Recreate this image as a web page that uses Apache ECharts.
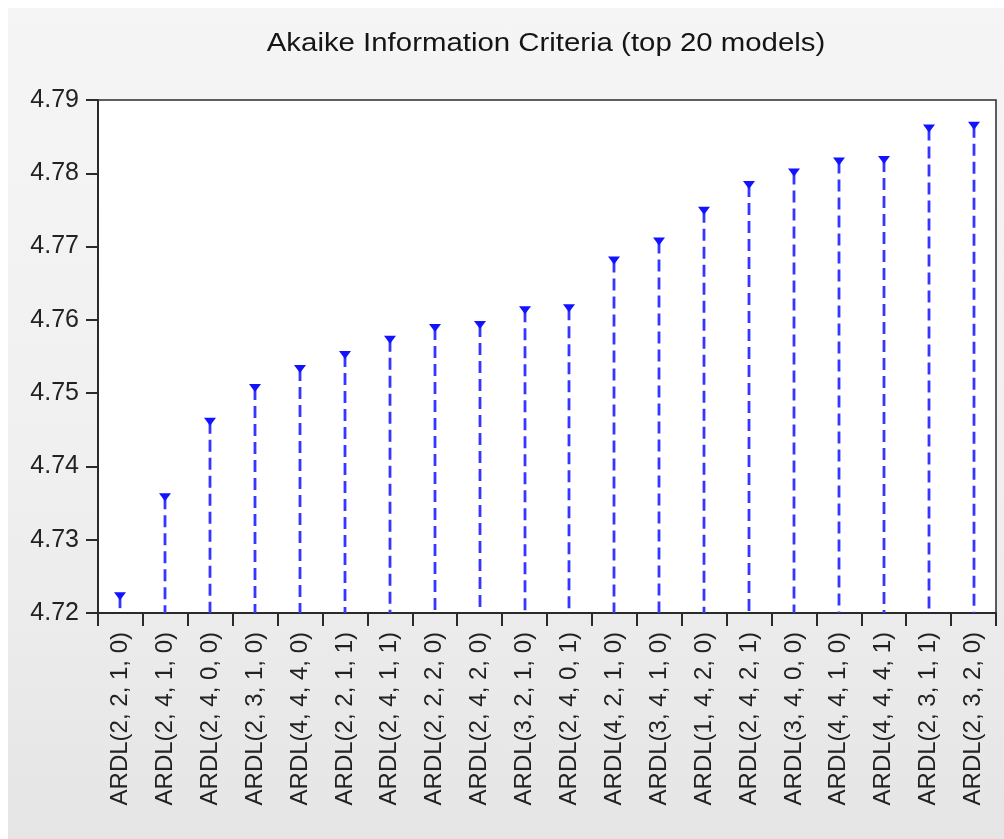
<!DOCTYPE html>
<html>
<head>
<meta charset="utf-8">
<script src="https://cdn.jsdelivr.net/npm/echarts@6/dist/echarts.min.js"></script>
<style>
  html, body { margin: 0; padding: 0; background: #ffffff; }
  #panel {
    position: absolute; left: 8px; top: 8px; right: 0; bottom: 0;
    background: linear-gradient(to bottom, #f5f5f5 0%, #f0f0f0 55%, #e5e5e5 100%);
  }
  #chart { position: absolute; left: 0; top: 0; width: 1004px; height: 839px; }
</style>
</head>
<body>
<div id="panel"></div>
<div id="chart"></div>
<script>
// Model specifications, ordered by Akaike information criterion
const models = [
  'ARDL(2, 2, 1, 0)', 'ARDL(2, 4, 1, 0)', 'ARDL(2, 4, 0, 0)', 'ARDL(2, 3, 1, 0)',
  'ARDL(4, 4, 4, 0)', 'ARDL(2, 2, 1, 1)', 'ARDL(2, 4, 1, 1)', 'ARDL(2, 2, 2, 0)',
  'ARDL(2, 4, 2, 0)', 'ARDL(3, 2, 1, 0)', 'ARDL(2, 4, 0, 1)', 'ARDL(4, 2, 1, 0)',
  'ARDL(3, 4, 1, 0)', 'ARDL(1, 4, 2, 0)', 'ARDL(2, 4, 2, 1)', 'ARDL(3, 4, 0, 0)',
  'ARDL(4, 4, 1, 0)', 'ARDL(4, 4, 4, 1)', 'ARDL(2, 3, 1, 1)', 'ARDL(2, 3, 2, 0)'
];

// AIC value of each model
const aicValues = [
  4.7223, 4.7358, 4.7461, 4.7507, 4.7533, 4.7552, 4.7573, 4.7589, 4.7593, 4.7613,
  4.7616, 4.7681, 4.7707, 4.7749, 4.7784, 4.7801, 4.7816, 4.7818, 4.7861, 4.7865
];

// Value axis range
const yMin = 4.72;
const yMax = 4.79;
const yStep = 0.01;

const titleText = 'Akaike Information Criteria (top 20 models)';

const chart = echarts.init(document.getElementById('chart'), null, { renderer: 'canvas' });

const fontFamily = '"Liberation Sans", Arial, sans-serif';

chart.setOption({
  backgroundColor: 'transparent',
  animation: false,
  graphic: [{
    type: 'text',
    x: 546,
    y: 44,
    scaleX: 1.13,
    originX: 0,
    originY: 0,
    style: {
      text: titleText,
      align: 'center',
      verticalAlign: 'middle',
      font: 'normal 26px "Liberation Sans", Arial, sans-serif',
      fill: '#151515'
    }
  }],
  grid: {
    left: 98, right: 8, top: 100, bottom: 226,
    show: true, backgroundColor: '#ffffff', borderColor: '#2a2a2a', borderWidth: 1.5
  },
  xAxis: {
    type: 'category',
    data: models,
    boundaryGap: true,
    axisLine: { show: true, lineStyle: { color: '#2a2a2a', width: 2 } },
    axisTick: { show: true, length: 13, interval: 0, lineStyle: { color: '#2a2a2a', width: 2 } },
    axisLabel: {
      interval: 0, rotate: 90, margin: 19,
      fontFamily, fontSize: 24, color: '#222222'
    },
    splitLine: { show: false }
  },
  yAxis: {
    type: 'value',
    min: yMin, max: yMax, interval: yStep,
    axisLine: { show: true, lineStyle: { color: '#2a2a2a', width: 2 } },
    axisTick: { show: true, length: 12, lineStyle: { color: '#2a2a2a', width: 2 } },
    axisLabel: {
      margin: 19, fontFamily, fontSize: 25, color: '#222222',
      formatter: v => v.toFixed(2)
    },
    splitLine: { show: false }
  },
  series: [{
    type: 'custom',
    data: aicValues.map((v, i) => [i, v]),
    encode: { x: 0, y: 1 },
    renderItem: function (params, api) {
      const top = api.coord([api.value(0), api.value(1)]);
      const base = api.coord([api.value(0), yMin]);
      const x = Math.round(top[0]);
      return {
        type: 'group',
        children: [
          {
            type: 'line',
            shape: { x1: x, y1: top[1], x2: x, y2: base[1] },
            style: { stroke: '#3636ff', lineWidth: 2.8, lineDash: [12, 6] }
          },
          {
            type: 'polygon',
            shape: { points: [[x - 6, top[1] - 4], [x + 6, top[1] - 4], [x, top[1] + 4]] },
            style: { fill: '#1212ff' }
          }
        ]
      };
    }
  }]
});
</script>
</body>
</html>
